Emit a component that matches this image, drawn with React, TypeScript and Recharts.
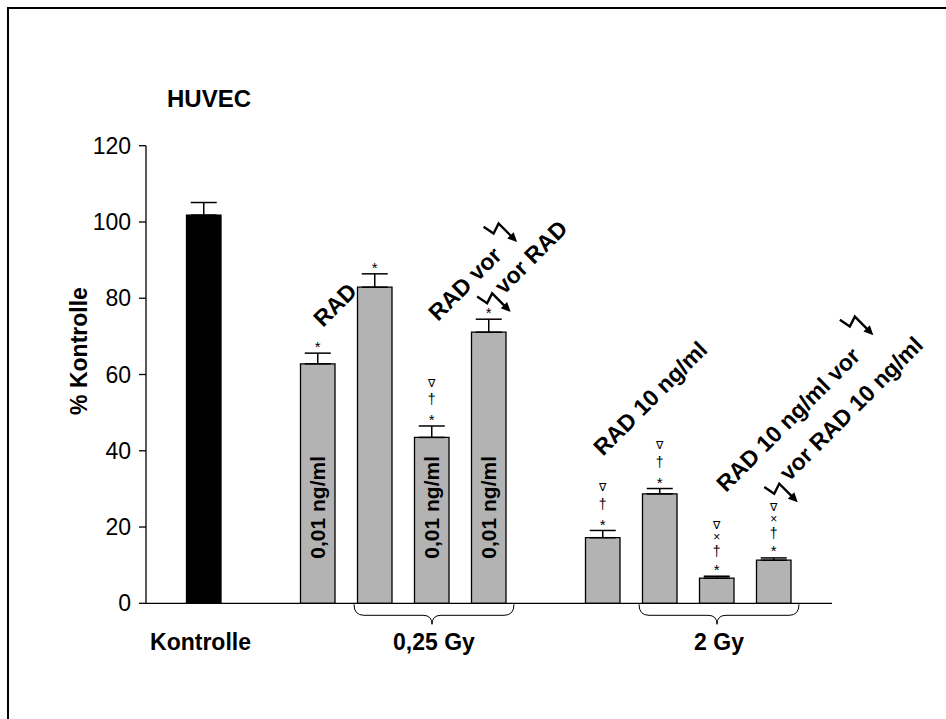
import React from 'react'
import { BarChart, Bar, XAxis, YAxis, Cell, ErrorBar, LabelList, ReferenceDot } from 'recharts'

const FONT = '"Liberation Sans", Arial, Helvetica, sans-serif'

// slots (two empty ones keep the gaps between groups)
const groups = ['ctrl', 'gap1', 'rad', 'irr', 'radIrr', 'irrRad', 'gap2', 'rad10', 'irr2', 'rad10Irr', 'irrRad10']
const values = [101.8, null, 62.8, 82.9, 43.5, 71.1, null, 17.2, 28.7, 6.6, 11.3]
const errors = [3.3, null, 2.8, 3.5, 3.0, 3.4, null, 1.9, 1.4, 0.5, 0.6]
const marks = [[], [], ['*'], ['*'], ['*', '†', '∇'], ['*'], [], ['*', '†', '∇'], ['*', '†', '∇'], ['*', '†', '×', '∇'], ['*', '†', '×', '∇']]
const doses = ['', '', '0,01 ng/ml', '', '0,01 ng/ml', '0,01 ng/ml', '', '', '', '', '']
const yTicks = [0, 20, 40, 60, 80, 100, 120]
const groupNames: Record<string, string> = { ctrl: 'Kontrolle', radIrr: '0,25 Gy', rad10Irr: '2 Gy' }
const bracedGroups = ['radIrr', 'rad10Irr']
const title = 'HUVEC'
const yLabel = '% Kontrolle'

const data = groups.map((g, i) => ({
  g,
  v: values[i],
  err: errors[i] == null ? null : [0, errors[i]],
}))

// glyph centre -> baseline shift (fraction of font size)
const markStyle: Record<string, { fs: number; k: number }> = {
  '*': { fs: 15, k: 0.57 },
  '†': { fs: 14, k: 0.3 },
  '×': { fs: 12, k: 0.33 },
  '∇': { fs: 11, k: 0.36 },
}

function BarMarks(props: any) {
  const vb = props.viewBox ?? props
  const { x, y, width, height } = vb
  const i = groups.indexOf(props.value)
  const value = values[i]
  if (i < 0 || value == null) return null
  const cx = x + width / 2
  const ppu = height / value
  const top = y - (errors[i] ?? 0) * ppu
  const list = marks[i]
  const offs = list.length === 4 ? [-10, -24, -39, -51] : [-9.5, -26, -43]
  return (
    <g>
      {list.length > 0 && (
        <text textAnchor="middle" fontFamily={FONT} fill="#000">
          {list.map((m, j) => {
            const st = markStyle[m]
            return (
              <tspan key={j} x={cx} y={top + offs[j] + st.k * st.fs} fontSize={st.fs}>
                {m}
              </tspan>
            )
          })}
        </text>
      )}
      {doses[i] && (
        <text
          x={cx}
          y={y + height - 96}
          transform={`rotate(-90, ${cx}, ${y + height - 96})`}
          textAnchor="middle"
          dominantBaseline="central"
          fontSize={21}
          fontWeight="bold"
          fontFamily={FONT}
          fill="#000"
        >
          {doses[i]}
        </text>
      )}
    </g>
  )
}

function Bolt({ x, y }: { x: number; y: number }) {
  return (
    <g transform={`translate(${x},${y})`}>
      <path d="M0 0 L2.3 11.8 L12.9 8.3 L12.9 27" fill="none" stroke="#000" strokeWidth={2.4} />
      <path d="M8.4 25 L17.4 25 L12.9 34.5 Z" fill="#000" />
    </g>
  )
}

const slant = (text: string, dx: number, bolt?: [number, number]) => (props: any) => {
  const vb = props.viewBox
  if (!vb) return null
  const x0 = vb.x + (vb.width || 0) / 2 + dx
  const y0 = vb.y + (vb.height || 0) / 2
  return (
    <g transform={`translate(${x0},${y0}) rotate(-45)`}>
      <text x={0} y={0} fontSize={23} fontWeight="bold" fontFamily={FONT} fill="#000">
        {text}
      </text>
      {bolt && <Bolt x={bolt[0]} y={bolt[1]} />}
    </g>
  )
}

function GroupTick(props: any) {
  const { x, y, payload } = props
  const key = payload?.value
  const name = groupNames[key]
  if (!name) return null
  const braced = bracedGroups.includes(key)
  const x1 = x - 78
  const x2 = x + 82
  return (
    <g>
      {braced && (
        <path
          d={`M${x1} ${y + 1} Q${x1} ${y + 12} ${x1 + 10} ${y + 12} L${x - 9} ${y + 12} Q${x} ${y + 12} ${x} ${y + 21} Q${x} ${y + 12} ${x + 9} ${y + 12} L${x2 - 10} ${y + 12} Q${x2} ${y + 12} ${x2} ${y + 1}`}
          fill="none"
          stroke="#000"
          strokeWidth={1}
        />
      )}
      <text x={key === 'ctrl' ? x - 3.5 : x + 2} y={y + 47} textAnchor="middle" fontSize={23} fontWeight="bold" fontFamily={FONT} fill="#000">
        {name}
      </text>
    </g>
  )
}

export default function App() {
  return (
    <div style={{ position: 'absolute', left: 0, top: 0, width: 946, height: 719, overflow: 'hidden', background: '#fff' }}>
      <div style={{ position: 'absolute', left: 7, top: 7, width: 980, height: 760, border: '2.5px solid #000' }} />
      <div style={{ position: 'absolute', left: 0, top: 0 }}>
        <BarChart width={946} height={719} data={data} margin={{ top: 145.7, right: 114, bottom: 85.7, left: 0 }} barCategoryGap={0}>
          <XAxis
            dataKey="g"
            type="category"
            axisLine={{ stroke: '#000', strokeWidth: 1.3 }}
            tickLine={false}
            tickSize={0}
            tickMargin={0}
            tick={<GroupTick />}
            interval={0}
            padding={{ left: 29.5, right: 29.5 }}
            height={30}
          />
          <YAxis
            domain={[0, 120]}
            ticks={yTicks}
            interval={0}
            width={146}
            tickSize={7}
            tickMargin={8}
            axisLine={{ stroke: '#000', strokeWidth: 1.3 }}
            tickLine={{ stroke: '#000', strokeWidth: 1.3 }}
            tick={{ fill: '#000', fontSize: 23, fontFamily: FONT }}
          />
          <Bar dataKey="v" barSize={34.5} stroke="#000" strokeWidth={1.3} isAnimationActive={false}>
            {data.map((d, i) => (
              <Cell key={d.g} fill={i === 0 ? '#000' : '#b3b3b3'} />
            ))}
            <ErrorBar dataKey="err" direction="y" width={13} stroke="#000" strokeWidth={1.5} isAnimationActive={false} />
            <LabelList dataKey="g" content={BarMarks} />
          </Bar>
          <ReferenceDot x="rad" y={72.2} r={0} fill="none" stroke="none" label={slant('RAD', 5)} />
          <ReferenceDot x="radIrr" y={73.8} r={0} fill="none" stroke="none" label={slant('RAD vor', 6, [99.5, -35])} />
          <ReferenceDot x="irrRad" y={80.8} r={0} fill="none" stroke="none" label={slant('vor RAD', 15, [-20, -18])} />
          <ReferenceDot x="rad10" y={38.4} r={0} fill="none" stroke="none" label={slant('RAD 10 ng/ml', 0)} />
          <ReferenceDot x="rad10Irr" y={28.9} r={0} fill="none" stroke="none" label={slant('RAD 10 ng/ml vor', 9, [203, -42])} />
          <ReferenceDot x="irrRad10" y={31.8} r={0} fill="none" stroke="none" label={slant('vor RAD 10 ng/ml', 15, [-21, -14])} />
        </BarChart>
      </div>
      <svg width={946} height={719} style={{ position: 'absolute', left: 0, top: 0, pointerEvents: 'none' }}>
        <text x={167} y={107} fontSize={24} fontWeight="bold" fontFamily={FONT} fill="#000">
          {title}
        </text>
        <text
          x={79}
          y={351}
          transform="rotate(-90, 79, 351)"
          textAnchor="middle"
          dominantBaseline="central"
          fontSize={23}
          fontWeight="bold"
          fontFamily={FONT}
          fill="#000"
        >
          {yLabel}
        </text>
      </svg>
    </div>
  )
}
